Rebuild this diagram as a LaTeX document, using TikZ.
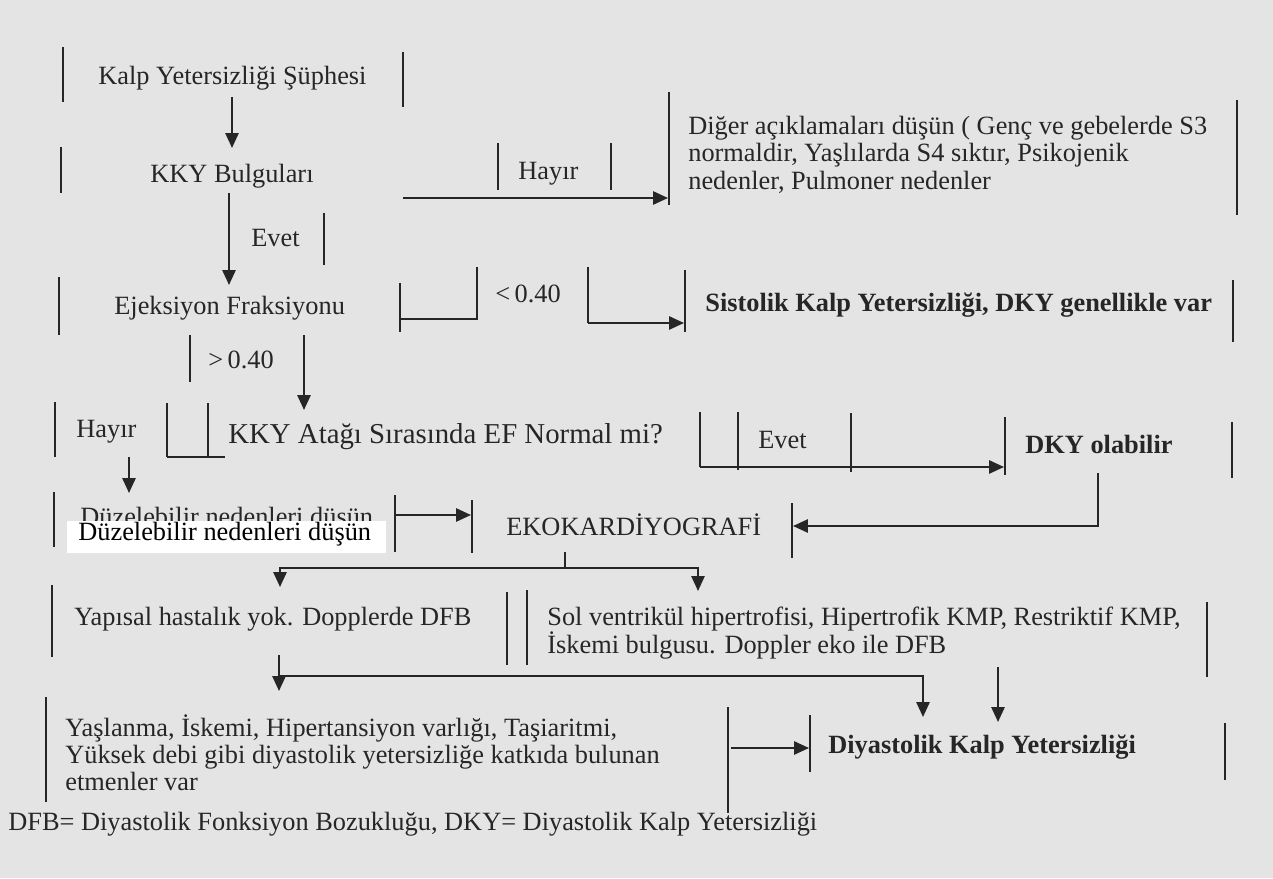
\documentclass[tikz,border=0pt]{standalone}
\usepackage{fontspec}
\setmainfont{Liberation Serif}
\usetikzlibrary{arrows.meta}
\definecolor{paper}{RGB}{228,228,228}
\definecolor{ink}{RGB}{38,38,38}
\begin{document}
\begin{tikzpicture}[x=0.02cm,y=-0.02cm,
  bar/.style={draw=ink,line width=1.1pt},
  conn/.style={draw=ink,line width=1.2pt},
  arr/.style={conn,-{Triangle[length=8.5pt,width=7.5pt]}},
  txt/.style={text=ink,inner sep=0pt,anchor=base west,font=\fontsize{15}{18}\selectfont},
  btxt/.style={txt,font=\fontsize{15}{18}\selectfont\bfseries},
  big/.style={txt,font=\fontsize{16.4}{19}\selectfont}]
\fill[paper] (0,0) rectangle (1273,878);
\useasboundingbox (0,0) rectangle (1273,878);

% texts
\node[txt] (kys) at (98,85) {Kalp Yetersizliği Şüphesi};
\node[txt] (kkyb) at (150,183) {KKY Bulguları};
\node[txt] (hayir1) at (518,180) {Hayır};
\node[txt] (evet1) at (251,247) {Evet};
\node[txt] (ef) at (114,315) {Ejeksiyon Fraksiyonu};
\node[txt] (lt) at (495,302) {<\,0.40};
\node[txt] (diger1) at (688,135) {Diğer açıklamaları düşün ( Genç ve gebelerde S3};
\node[txt] (diger2) at (688,162) {normaldir, Yaşlılarda S4 sıktır, Psikojenik};
\node[txt] (diger3) at (688,190) {nedenler, Pulmoner nedenler};
\node[btxt] (sis) at (705,312) {Sistolik Kalp Yetersizliği, DKY genellikle var};
\node[txt] (gt) at (208,368) {>\,0.40};
\node[txt] (hayir2) at (76,437) {Hayır};
\node[big] (atak) at (228,443) {KKY Atağı Sırasında EF Normal mi?};
\node[txt] (evet2) at (758,448) {Evet};
\node[btxt] (dkyo) at (1025,453) {DKY olabilir};
\begin{scope}
  \clip (60,490) rectangle (390,521);
  \node[txt] (duzold) at (80,525) {Düzelebilir nedenleri düşün};
\end{scope}
\fill[white] (67,521) rectangle (386,553);
\node[txt,text=black] (duz) at (78,540) {Düzelebilir nedenleri düşün};
\node[txt] (eko) at (506,535) {EKOKARDİYOGRAFİ};
\node[txt] (yap) at (74,625) {Yapısal hastalık yok. Dopplerde DFB};
\node[txt] (sol1) at (547,625) {Sol ventrikül hipertrofisi, Hipertrofik KMP, Restriktif KMP,};
\node[txt] (sol2) at (547,653) {İskemi bulgusu. Doppler eko ile DFB};
\node[txt] (yas1) at (65,736) {Yaşlanma, İskemi, Hipertansiyon varlığı, Taşiaritmi,};
\node[txt] (yas2) at (65,763) {Yüksek debi gibi diyastolik yetersizliğe katkıda bulunan};
\node[txt] (yas3) at (65,790) {etmenler var};
\node[btxt] (dkky) at (828,753) {Diyastolik Kalp Yetersizliği};
\node[txt] (foot) at (8,830) {DFB= Diyastolik Fonksiyon Bozukluğu, DKY= Diyastolik Kalp Yetersizliği};

% box bars
\draw[bar] (63,47) -- (63,102);   \draw[bar] (403,52) -- (403,107);
\draw[bar] (61,147) -- (61,193);
\draw[bar] (498,143) -- (498,190); \draw[bar] (611,143) -- (611,190);
\draw[bar] (324,213) -- (324,265);
\draw[bar] (669,92) -- (669,205); \draw[bar] (1237,100) -- (1237,215);
\draw[bar] (59,277) -- (59,335);  \draw[bar] (400,283) -- (400,332);
\draw[bar] (477,267) -- (477,320); \draw[bar] (588,267) -- (588,323);
\draw[bar] (685,270) -- (685,332); \draw[bar] (1233,280) -- (1233,342);
\draw[bar] (190,335) -- (190,382);
\draw[bar] (55,402) -- (55,457);  \draw[bar] (167,403) -- (167,457);
\draw[bar] (208,403) -- (208,457);
\draw[bar] (700,412) -- (700,467);
\draw[bar] (738,412) -- (738,470); \draw[bar] (851,413) -- (851,472);
\draw[bar] (1005,417) -- (1005,475); \draw[bar] (1232,422) -- (1232,478);
\draw[bar] (54,492) -- (54,547);  \draw[bar] (395,495) -- (395,552);
\draw[bar] (472,500) -- (472,553); \draw[bar] (792,503) -- (792,558);
\draw[bar] (52,585) -- (52,657);  \draw[bar] (507,592) -- (507,665);
\draw[bar] (527,590) -- (527,665); \draw[bar] (1207,602) -- (1207,677);
\draw[bar] (46,697) -- (46,802);  \draw[bar] (728,707) -- (728,813);
\draw[bar] (810,715) -- (810,772); \draw[bar] (1225,723) -- (1225,780);

% connectors
\draw[arr] (232,97) -- (232,148);
\draw[arr] (403,198) -- (668,198);
\draw[arr] (229,193) -- (229,285);
\draw[conn] (400,319) -- (477,319);
\draw[arr] (588,323) -- (684,323);
\draw[arr] (304,335) -- (304,410);
\draw[conn] (167,457) -- (225,457);
\draw[arr] (129,457) -- (129,493);
\draw[arr] (700,467) -- (1004,467);
\draw[arr] (1098,473) -- (1098,526) -- (793,526);
\draw[arr] (395,515) -- (471,515);
\draw[conn] (565,552) -- (565,568);
\draw[conn] (280,568) -- (698,568);
\draw[arr] (280,567) -- (280,587);
\draw[arr] (698,567) -- (698,591);
\draw[conn] (279,655) -- (279,676);
\draw[arr] (279,675) -- (279,691);
\draw[arr] (279,676) -- (923,676) -- (923,717);
\draw[arr] (998,667) -- (998,722);
\draw[arr] (731,748) -- (809,748);
\end{tikzpicture}
\end{document}
